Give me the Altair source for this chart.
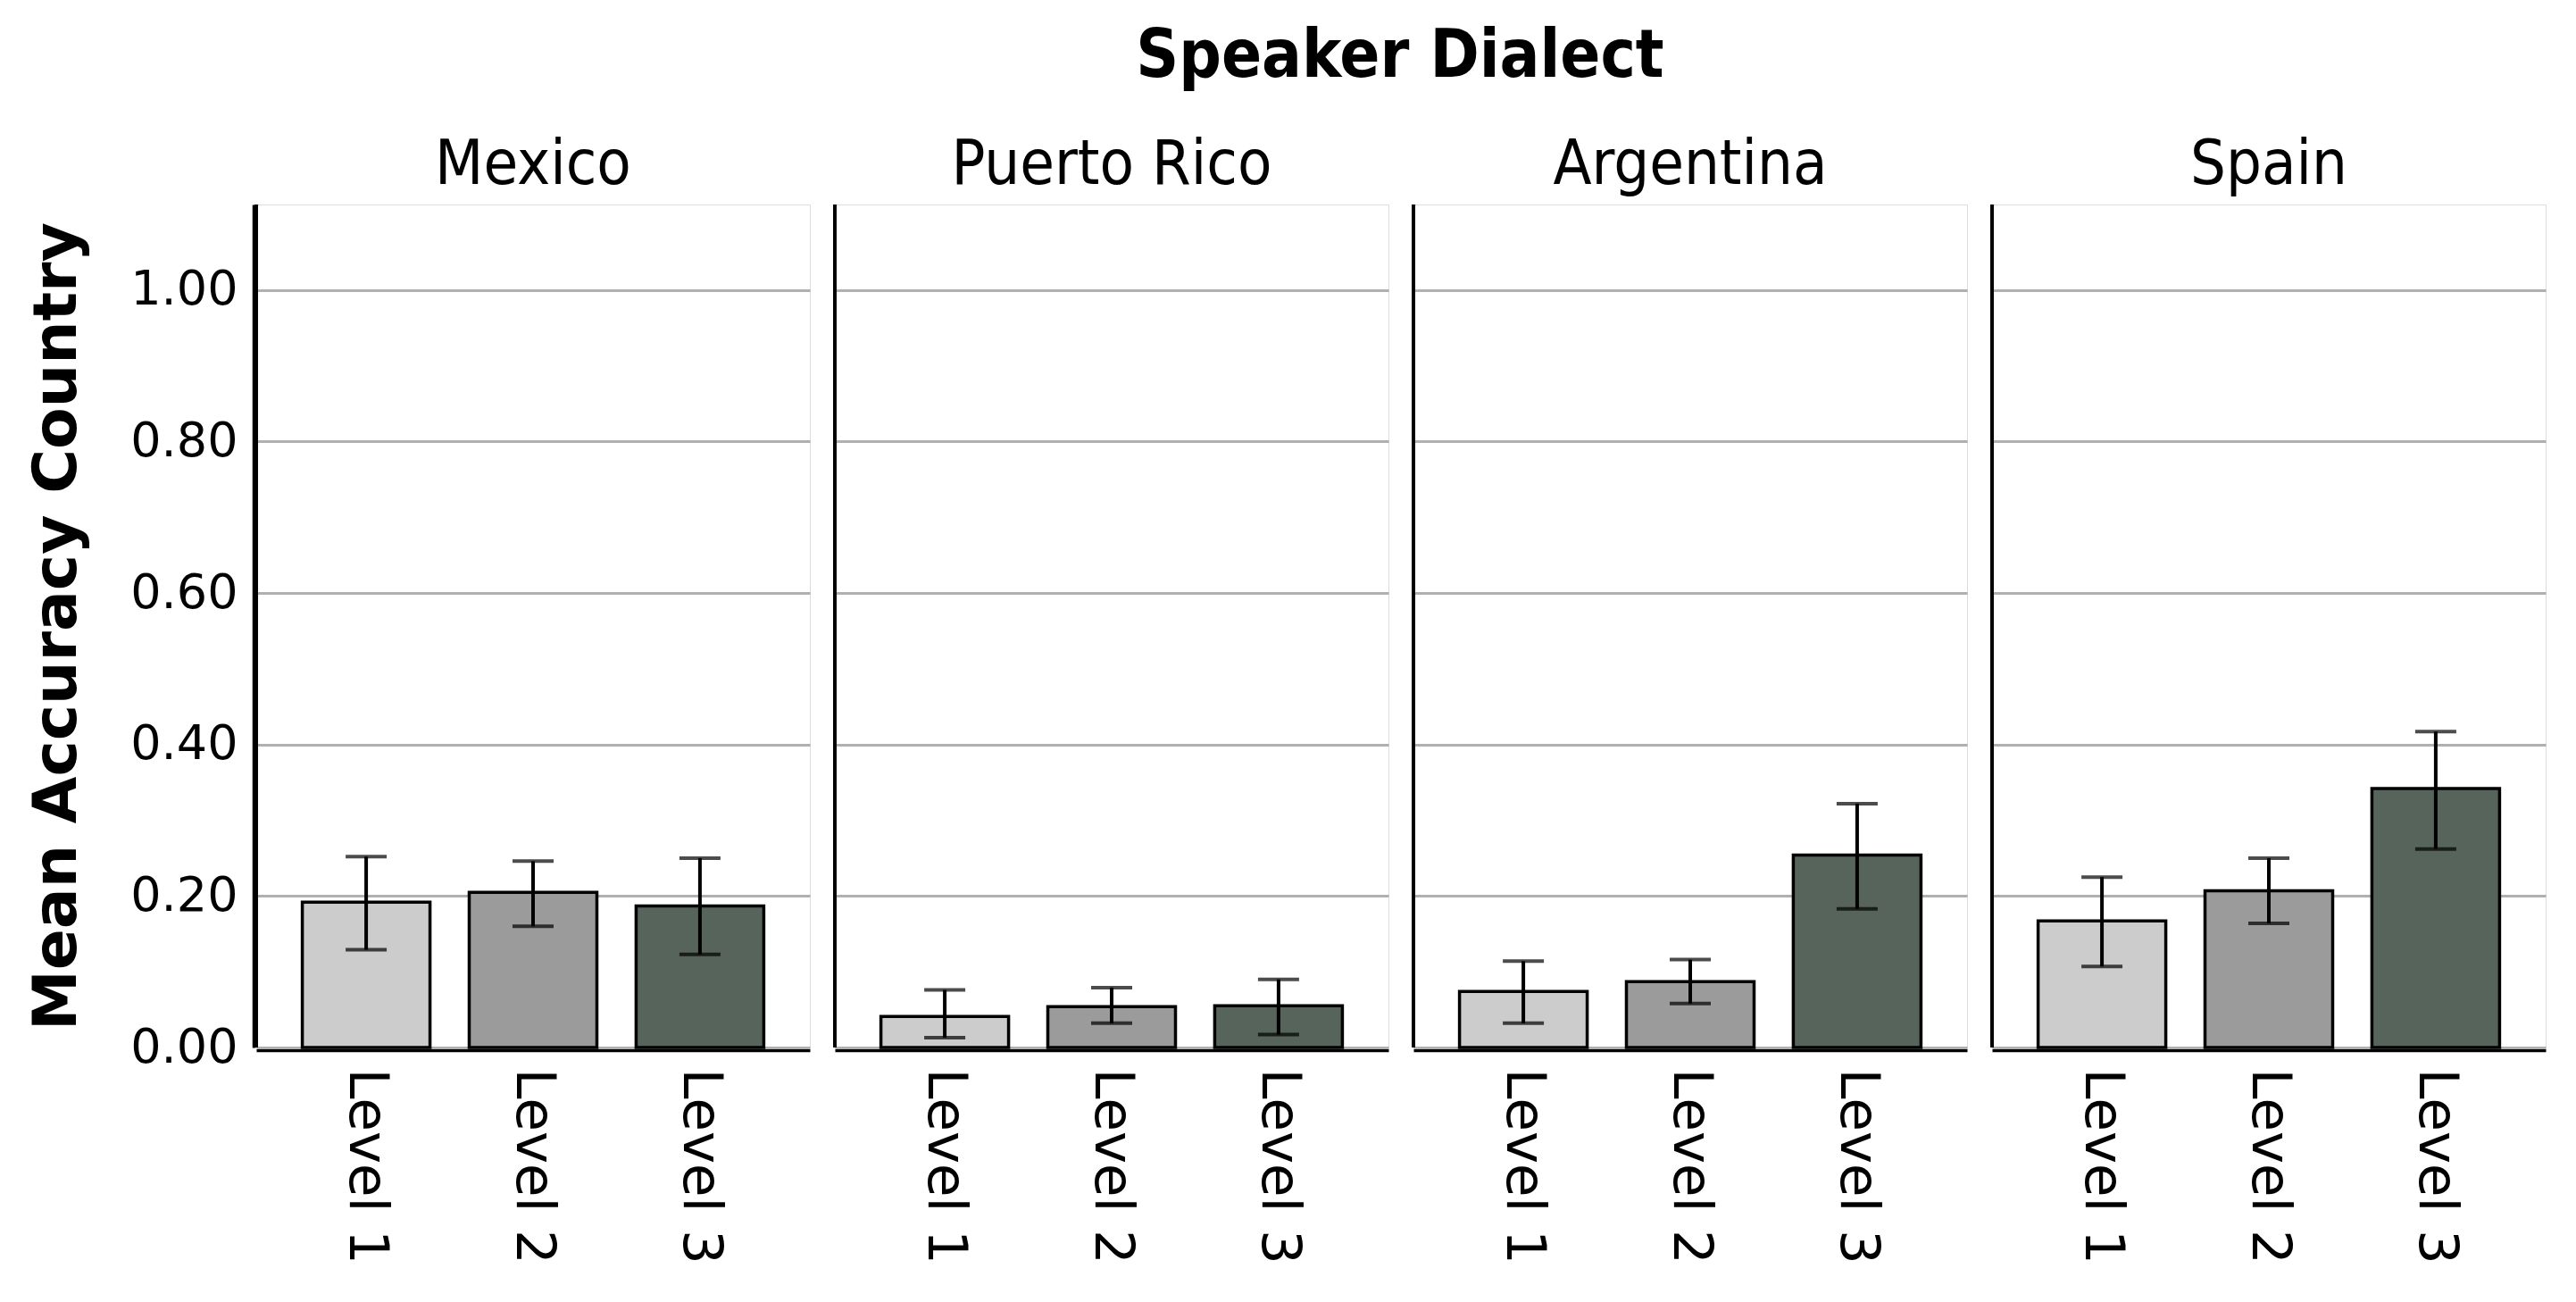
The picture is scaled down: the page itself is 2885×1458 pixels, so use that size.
import altair as alt
import pandas as pd

countries = ["Mexico", "Puerto Rico", "Argentina", "Spain"]
levels = ["Level 1", "Level 2", "Level 3"]

# mean accuracy per country (Level 1, Level 2, Level 3)
mean_mexico = [0.192, 0.205, 0.187]
mean_puerto_rico = [0.041, 0.054, 0.055]
mean_argentina = [0.074, 0.087, 0.254]
mean_spain = [0.167, 0.207, 0.342]

# error bar bounds
low_mexico = [0.129, 0.160, 0.123]
high_mexico = [0.252, 0.246, 0.250]
low_puerto_rico = [0.013, 0.032, 0.017]
high_puerto_rico = [0.076, 0.079, 0.090]
low_argentina = [0.032, 0.058, 0.183]
high_argentina = [0.114, 0.116, 0.322]
low_spain = [0.107, 0.164, 0.262]
high_spain = [0.225, 0.250, 0.417]

level_colors = ["#cccccc", "#9b9b9b", "#56645b"]

means = [mean_mexico, mean_puerto_rico, mean_argentina, mean_spain]
lows = [low_mexico, low_puerto_rico, low_argentina, low_spain]
highs = [high_mexico, high_puerto_rico, high_argentina, high_spain]

rows = []
for c, m, lo, hi in zip(countries, means, lows, highs):
    for lv, mv, lv_lo, lv_hi in zip(levels, m, lo, hi):
        rows.append({"country": c, "level": lv, "mean": mv, "low": lv_lo, "high": lv_hi})
df = pd.DataFrame(rows)

W = 620
H = 944
FONT = "DejaVu Sans"
HFONT = "DejaVu Sans Condensed, DejaVu Sans"

xenc = alt.X(
    "level:N",
    sort=levels,
    title=None,
    scale=alt.Scale(paddingInner=0.235, paddingOuter=0.276),
    axis=alt.Axis(
        labelAngle=90,
        labelFontSize=61,
        labelFont=FONT,
        labelColor="black",
        labelPadding=20,
        labelLimit=500,
        ticks=False,
        domainColor="black",
        domainWidth=3.5,
        grid=False,
    ),
)

yscale = alt.Scale(domain=[0, 1.113], nice=False, zero=True)

bars = alt.Chart().mark_bar(stroke="black", strokeWidth=3.5).encode(
    x=xenc,
    y=alt.Y(
        "mean:Q",
        scale=yscale,
        title="Mean Accuracy Country",
        axis=alt.Axis(
            values=[0, 0.2, 0.4, 0.6, 0.8, 1.0],
            format=".2f",
            labelFontSize=54,
            labelFont=FONT,
            labelColor="black",
            labelPadding=18,
            ticks=False,
            domainColor="black",
            domainWidth=3.5,
            grid=True,
            gridColor="#b0b0b0",
            gridWidth=3,
            titleFontSize=68,
            titleFont=FONT,
            titleFontWeight="bold",
            titleColor="black",
            titlePadding=47,
        ),
    ),
    color=alt.Color(
        "level:N",
        scale=alt.Scale(domain=levels, range=level_colors),
        legend=None,
    ),
)

err_rule = alt.Chart().mark_rule(color="black", strokeWidth=4).encode(
    x=alt.X("level:N", sort=levels),
    y=alt.Y("low:Q", scale=yscale),
    y2="high:Q",
)

err_low = alt.Chart().mark_tick(color="black", size=46, thickness=4).encode(
    x=alt.X("level:N", sort=levels),
    y=alt.Y("low:Q", scale=yscale),
)

err_high = alt.Chart().mark_tick(color="black", size=46, thickness=4).encode(
    x=alt.X("level:N", sort=levels),
    y=alt.Y("high:Q", scale=yscale),
)

left_line = alt.Chart().mark_rule(color="black", strokeWidth=3.5).encode(
    x=alt.value(0), y=alt.value(0), y2=alt.value(H)
)

layered = alt.layer(bars, err_rule, err_low, err_high, left_line).properties(
    width=W, height=H
)

chart = (
    layered.facet(
        data=df,
        column=alt.Column(
            "country:N",
            sort=countries,
            header=alt.Header(
                title="Speaker Dialect",
                titleFontSize=74,
                titleFont=HFONT,
                titleFontWeight="bold",
                titleColor="black",
                titlePadding=38,
                labelFontSize=70,
                labelFont=HFONT,
                labelColor="black",
                labelPadding=5,
            ),
        ),
        spacing=24,
    )
    .properties(padding={"left": 22, "top": 19, "right": 5, "bottom": 5})
    .configure_view(stroke=None)
    .configure(background="white")
)

chart.save("out.html", embed_options={"renderer": "svg", "actions": False})
